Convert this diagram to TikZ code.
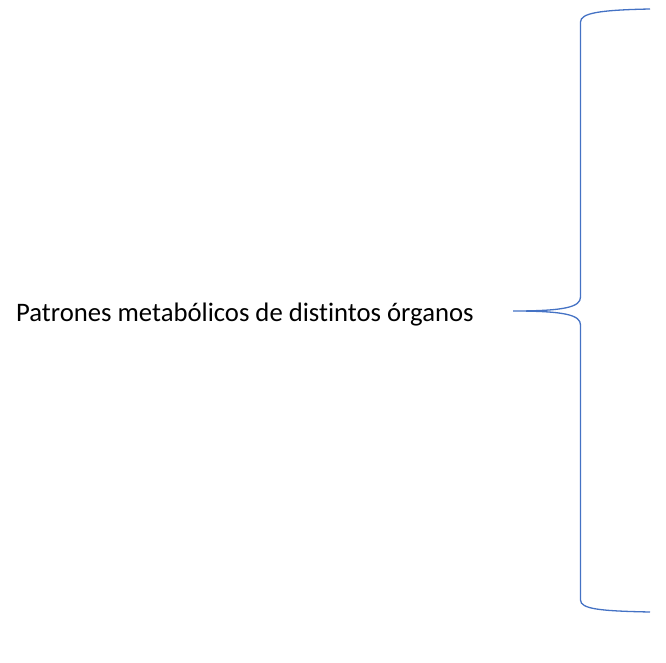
\documentclass[tikz,border=0pt]{standalone}
\usepackage{fontspec}
\setmainfont{Carlito}[Ligatures=NoCommon]
\definecolor{bracecol}{HTML}{4472C4}
\begin{document}
\begin{tikzpicture}[x=1pt,y=-1pt,
  bracestyle/.style={draw=bracecol,line width=1.3pt},
  labelstyle/.style={anchor=base west,inner sep=0pt,font=\fontsize{26.7}{32}\selectfont}]
\useasboundingbox (0,0) rectangle (666,663);
\node[labelstyle] (t) at (16,321.5) {Patrones metabólicos de distintos órganos};
\coordinate (top) at (650,9);
\coordinate (tc) at (580.5,22);
\coordinate (mu) at (580.5,297);
\coordinate (tip) at (513,311);
\coordinate (ml) at (580.5,325);
\coordinate (bc) at (580.5,600);
\coordinate (bot) at (650,612);
\draw[bracestyle] (top) .. controls (600,10) and (580.5,13) .. (tc)
  -- (mu) .. controls (580.5,307) and (565,311) .. (tip)
  .. controls (565,311) and (580.5,315) .. (ml)
  -- (bc) .. controls (580.5,609) and (600,611) .. (bot);
\end{tikzpicture}
\end{document}
